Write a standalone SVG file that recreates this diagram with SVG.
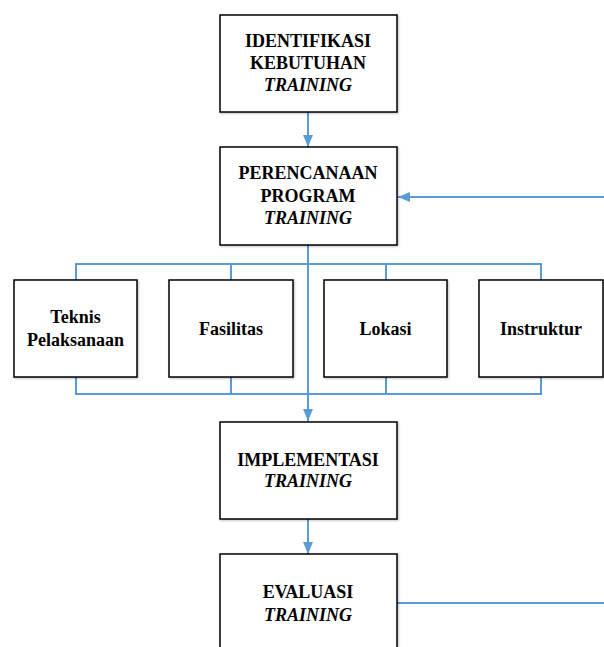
<svg xmlns="http://www.w3.org/2000/svg" width="604" height="647" viewBox="0 0 604 647">
<defs>
<style>
.box{fill:#fff;stroke:#000;stroke-width:1.5}
.t{font-family:"Liberation Serif","Times New Roman",serif;font-weight:bold;font-size:18px;fill:#000;text-anchor:middle}
.i{font-style:italic}
.c{fill:none;stroke:#5B9BD5;stroke-width:2}
</style>
<marker id="ah" markerWidth="12" markerHeight="10" refX="12" refY="5" orient="auto" markerUnits="userSpaceOnUse">
<path d="M0,0 L12,5 L0,10 Z" fill="#5B9BD5"/>
</marker>
<filter id="sh" x="-10%" y="-10%" width="120%" height="120%">
<feDropShadow dx="1" dy="1" stdDeviation="1.2" flood-color="#000" flood-opacity="0.25"/>
</filter>
</defs>
<g id="connectors">
<line class="c" x1="308" y1="112" x2="308" y2="147" marker-end="url(#ah)"/>
<line class="c" x1="604" y1="197" x2="398" y2="197" marker-end="url(#ah)"/>
<line class="c" x1="308" y1="245" x2="308" y2="421" marker-end="url(#ah)"/>
<polyline class="c" points="76,280 76,264 541,264 541,280"/>
<line class="c" x1="231" y1="264" x2="231" y2="280"/>
<line class="c" x1="386" y1="264" x2="386" y2="280"/>
<polyline class="c" points="76,377 76,394 541,394 541,377"/>
<line class="c" x1="231" y1="377" x2="231" y2="394"/>
<line class="c" x1="386" y1="377" x2="386" y2="394"/>
<line class="c" x1="308" y1="519" x2="308" y2="554" marker-end="url(#ah)"/>
<line class="c" x1="397" y1="603" x2="604" y2="603"/>
</g>
<g id="n1">
<rect class="box" filter="url(#sh)" x="220" y="15" width="177" height="97"/>
<text class="t" x="308" y="47">IDENTIFIKASI</text>
<text class="t" x="308" y="69">KEBUTUHAN</text>
<text class="t i" x="308" y="91">TRAINING</text>
</g>
<g id="n2">
<rect class="box" filter="url(#sh)" x="220" y="147" width="177" height="98"/>
<text class="t" x="308" y="179">PERENCANAAN</text>
<text class="t" x="308" y="202">PROGRAM</text>
<text class="t i" x="308" y="224">TRAINING</text>
</g>
<g id="n3">
<rect class="box" filter="url(#sh)" x="14" y="280" width="123" height="97"/>
<text class="t" x="75.5" y="323">Teknis</text>
<text class="t" x="75.5" y="345.5">Pelaksanaan</text>
</g>
<g id="n4">
<rect class="box" filter="url(#sh)" x="169" y="280" width="124" height="97"/>
<text class="t" x="231" y="335">Fasilitas</text>
</g>
<g id="n5">
<rect class="box" filter="url(#sh)" x="324" y="280" width="123" height="97"/>
<text class="t" x="385.5" y="335">Lokasi</text>
</g>
<g id="n6">
<rect class="box" filter="url(#sh)" x="479" y="280" width="124" height="97"/>
<text class="t" x="541" y="335">Instruktur</text>
</g>
<g id="n7">
<rect class="box" filter="url(#sh)" x="220" y="422" width="177" height="97"/>
<text class="t" x="308" y="465.5">IMPLEMENTASI</text>
<text class="t i" x="308" y="487">TRAINING</text>
</g>
<g id="n8">
<rect class="box" filter="url(#sh)" x="220" y="554" width="177" height="110"/>
<text class="t" x="308" y="598">EVALUASI</text>
<text class="t i" x="308" y="620.5">TRAINING</text>
</g>
</svg>
